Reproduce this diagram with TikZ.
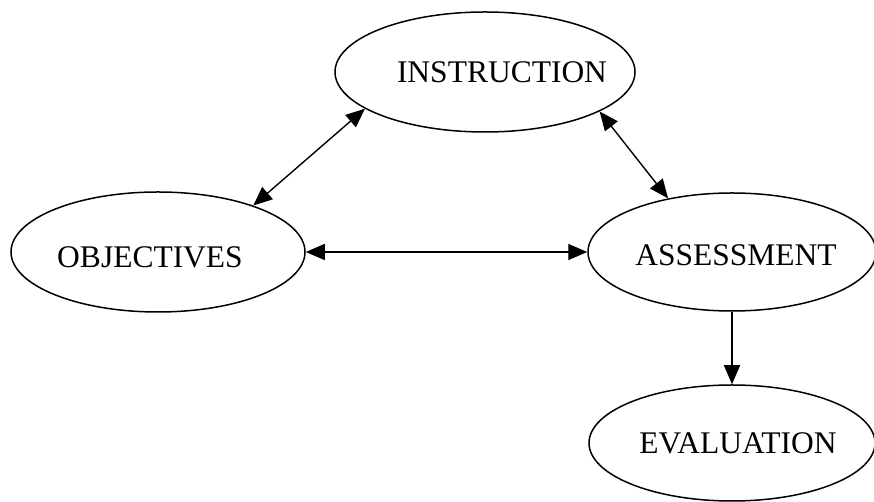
\documentclass[tikz,border=0pt]{standalone}
\usepackage{fontspec}
\setmainfont{Liberation Serif}
\usetikzlibrary{shapes.geometric,positioning,arrows.meta}

\begin{document}
\begin{tikzpicture}[x=1pt,y=1pt,node distance=2cm,on grid,
    oval/.style={ellipse,draw,line width=1.5pt,inner sep=0pt},
    txt/.style={font=\fontsize{31.5}{36}\selectfont},
    link/.style={line width=1.4pt,{Triangle[length=19pt,width=16pt]}-{Triangle[length=19pt,width=16pt]}}]
  \useasboundingbox (0,0) rectangle (874,502);
  \node[oval,minimum width=294pt,minimum height=120pt,
    label={[txt,xshift=-8pt,yshift=-5pt]center:OBJECTIVES}] (obj) at (158,250) {};
  \node[oval,minimum width=288pt,minimum height=118pt,
    label={[txt,xshift=4pt,yshift=-3pt]center:ASSESSMENT}] (assess) [right=574pt of obj] {};
  \node[oval,minimum width=300pt,minimum height=120pt,
    label={[txt,xshift=17pt]center:INSTRUCTION}] (instr) [above right=180pt and 327pt of obj] {};
  \node[oval,minimum width=286pt,minimum height=116pt,
    label={[txt,xshift=6pt]center:EVALUATION}] (eval) [below=191pt of assess] {};
  \path[link]
    (obj.26) edge (instr.197)
    (instr.341) edge (assess.140)
    (obj.east) edge (assess.west);
  \draw[line width=1.4pt,-{Triangle[length=19pt,width=16pt]}] (assess.south) -- (eval.north);
\end{tikzpicture}
\end{document}
